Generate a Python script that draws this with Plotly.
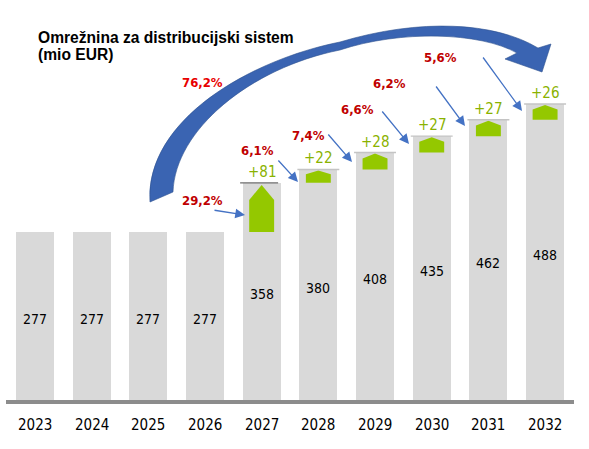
import plotly.graph_objects as go

# ---- data ----
years = ["2023", "2024", "2025", "2026", "2027", "2028", "2029", "2030", "2031", "2032"]
values = [277, 277, 277, 277, 358, 380, 408, 435, 462, 488]
growth_labels = ["29,2%", "6,1%", "7,4%", "6,6%", "6,2%", "5,6%"]
total_growth_label = "76,2%"
title_line1 = "Omrežnina za distribucijski sistem"
title_line2 = "(mio EUR)"

# ---- layout geometry (pixels) ----
W, H = 589, 449
L, R, T, B = 6, 15, 0, 49
PW, PH = W - L - R, H - T - B
YMAX = 400 / 0.6066


def X(px):
    return (px - L) / PW


def Y(py):
    return (PH + T - py) / PH


def P(px, py):
    return f"{X(px):.4f},{Y(py):.4f}"


BAR_COL = "#D9D9D9"
GREEN = "#94C800"
GREEN_TXT = "#8AB200"
RED = "#C00000"
RED2 = "#E80000"
BLUE = "#4472C4"
COND = "DejaVu Sans Condensed"

idx = list(range(len(years)))
fig = go.Figure()
fig.add_trace(go.Bar(x=idx, y=values, width=0.67, marker=dict(color=BAR_COL, line=dict(width=0)),
                     hoverinfo="skip"))

shapes = []
annotations = []

# axis line
shapes.append(dict(type="line", xref="paper", yref="paper", x0=0, x1=1, y0=Y(402), y1=Y(402),
                   line=dict(color="#8C8C8C", width=4)))

# increments
for i in range(1, len(values)):
    prev, v = values[i - 1], values[i]
    d = v - prev
    if d <= 0:
        continue
    hw = 0.22
    sh = prev + 0.65 * d
    top = v - 0.03 * d - 1
    path = (f"M{i - hw},{prev} L{i + hw},{prev} L{i + hw},{sh} L{i},{top} "
            f"L{i - hw},{sh} Z")
    shapes.append(dict(type="path", xref="x", yref="y", path=path, fillcolor=GREEN,
                       line=dict(width=0)))
    first = (i == 4)
    shapes.append(dict(type="line", xref="x", yref="y",
                       x0=i - (0.38 if first else 0.37), x1=i + (0.29 if first else 0.37),
                       y0=v, y1=v,
                       line=dict(color="#6E6E6E" if first else "#C4C4C4", width=1.3)))
    annotations.append(dict(x=i, y=v, xref="x", yref="y", text=f"+{d}", showarrow=False,
                            yanchor="bottom", yshift=0,
                            font=dict(family=COND, size=15, color=GREEN_TXT)))

# value labels inside bars
for i, v in enumerate(values):
    annotations.append(dict(x=i, y=v / 2, xref="x", yref="y", text=str(v), showarrow=False,
                            yshift=-3, font=dict(family=COND, size=14, color="#000000")))

# year labels
for i, yr in enumerate(years):
    annotations.append(dict(x=i, y=Y(424.5), xref="x", yref="paper", text=yr, showarrow=False,
                            yanchor="middle",
                            font=dict(family=COND, size=15, color="#000000")))

# title
annotations.append(dict(x=X(36), y=Y(37), xref="paper", yref="paper", text=f"<b>{title_line1}</b>",
                        showarrow=False, xanchor="left", yanchor="middle",
                        font=dict(family="Liberation Sans", size=15.6, color="#000000")))
annotations.append(dict(x=X(36), y=Y(55), xref="paper", yref="paper", text=f"<b>{title_line2}</b>",
                        showarrow=False, xanchor="left", yanchor="middle",
                        font=dict(family="Liberation Sans", size=15.6, color="#000000")))

# growth labels and small arrows
label_pos = [(202, 201), (257, 151), (308, 126), (357, 100), (408, 74), (459, 48)]
arrow_px = [((213, 210), (245, 215)), ((277, 159), (298, 182)), ((327, 133), (352, 162)),
            ((381, 110), (409, 144)), ((435, 85), (465, 126)), ((482, 56), (522, 111))]
for lab, (lx, ly), (tail, tip) in zip(growth_labels, label_pos, arrow_px):
    annotations.append(dict(x=X(lx), y=Y(ly), xref="paper", yref="paper", text=f"<b>{lab}</b>",
                            showarrow=False, font=dict(family=COND, size=13, color=RED)))
    annotations.append(dict(x=X(tip[0]), y=Y(tip[1]), xref="paper", yref="paper", text="",
                            showarrow=True, ax=tail[0] - tip[0], ay=tail[1] - tip[1],
                            arrowhead=2, arrowsize=1.5, arrowwidth=1.3, arrowcolor=BLUE,
                            standoff=0))
annotations.append(dict(x=X(202), y=Y(73), xref="paper", yref="paper", text=f"<b>{total_growth_label}</b>",
                        showarrow=False, font=dict(family=COND, size=13, color=RED2)))

# big curved arrow
big = ("M" + P(150, 202) + " C" + P(145, 120) + " " + P(250, 60) + " " + P(340, 42)
       + " C" + P(420, 18) + " " + P(495, 22) + " " + P(538, 48)
       + " L" + P(551, 44) + " L" + P(542, 72) + " L" + P(505, 59) + " L" + P(517, 53)
       + " C" + P(480, 32) + " " + P(400, 30) + " " + P(340, 50)
       + " C" + P(250, 68) + " " + P(175, 130) + " " + P(173, 192) + " Z")
shapes.append(dict(type="path", xref="paper", yref="paper", path=big, fillcolor="#3A64B2",
                   line=dict(color="#2F528F", width=0.6)))

fig.update_layout(
    width=W, height=H,
    margin=dict(l=L, r=R, t=T, b=B),
    paper_bgcolor="white", plot_bgcolor="white",
    showlegend=False,
    xaxis=dict(range=[-0.51, 9.51], visible=False, fixedrange=True),
    yaxis=dict(range=[0, YMAX], visible=False, fixedrange=True),
    shapes=shapes,
    annotations=annotations,
    bargap=0,
)

fig.write_html("out.html", config={"staticPlot": True},
               post_script="document.body.style.margin='0';document.body.style.overflow='hidden';")
